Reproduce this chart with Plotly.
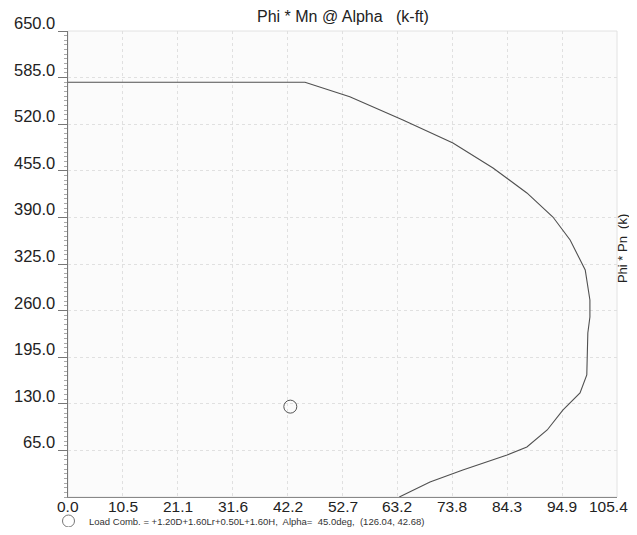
import plotly.graph_objects as go

# Interaction diagram (Phi*Mn vs Phi*Pn)
mn_values = [0.0, 45.5, 54.1, 64.3, 73.9, 81.6, 88.1, 93.1, 96.4, 98.3, 99.3, 100.2,
             100.2, 99.8, 99.6, 99.6, 98.3, 95.0, 92.0, 88.1, 84.3, 75.8, 69.5, 63.6]
pn_values = [578.5, 578.5, 558.3, 525.8, 493.8, 458.9, 424.1, 390.5, 358.5, 330.6, 316.6, 274.8,
             251.1, 228.7, 191.1, 170.2, 145.1, 121.3, 93.5, 69.7, 58.6, 37.7, 20.9, 0.0]

load_mn = [42.68]
load_pn = [126.04]
load_name = "Load Comb. = +1.20D+1.60Lr+0.50L+1.60H,\u00a0 Alpha=\u00a0 45.0deg,\u00a0 (126.04, 42.68)"

x_tickvals = [0, 10.54, 21.08, 31.62, 42.16, 52.7, 63.24, 73.78, 84.32, 94.86, 105.4]
x_ticktext = ["0.0", "10.5", "21.1", "31.6", "42.2", "52.7", "63.2", "73.8", "84.3", "94.9", "105.4"]
y_tickvals = [65, 130, 195, 260, 325, 390, 455, 520, 585, 650]
y_ticktext = ["65.0", "130.0", "195.0", "260.0", "325.0", "390.0", "455.0", "520.0", "585.0", "650.0"]

title_text = "Phi * Mn @ Alpha\u00a0\u00a0 (k-ft)"
ytitle_text = "Phi * Pn\u00a0 (k)"

FONT = "Liberation Sans, Arial, sans-serif"
# the page body has an 8px margin, so the figure is sized/offset to compensate
W, H = 622, 519
L, R, T, B = 60, 13, 23, 30

fig = go.Figure()
fig.add_trace(go.Scatter(x=mn_values, y=pn_values, mode="lines",
                         line=dict(color="#505050", width=1.1), showlegend=False,
                         hoverinfo="skip"))
fig.add_trace(go.Scatter(x=load_mn, y=load_pn, mode="markers", name=load_name,
                         marker=dict(symbol="circle-open", size=13, color="#555555",
                                     line=dict(width=1)),
                         showlegend=False))

fig.update_layout(
    width=W, height=H,
    margin=dict(l=L, r=R, t=T, b=B, autoexpand=False),
    paper_bgcolor="white", plot_bgcolor="#fbfbfb",
    font=dict(family=FONT, color="#222222"),
    showlegend=False,
    xaxis=dict(range=[0, 105.4], tickvals=x_tickvals, ticktext=[""] * len(x_tickvals),
               showgrid=True, gridcolor="#e0e0e0", griddash="dot", gridwidth=1,
               showline=True, linecolor="#888888", linewidth=1, mirror=False,
               ticks="", zeroline=False, fixedrange=True, automargin=False),
    yaxis=dict(range=[0, 650], tickvals=y_tickvals, ticktext=[""] * len(y_tickvals),
               showgrid=True, gridcolor="#e0e0e0", griddash="dot", gridwidth=1,
               showline=True, linecolor="#777777", linewidth=1,
               ticks="outside", ticklen=9, tickcolor="#777777", tickwidth=1,
               minor=dict(dtick=6.5, ticks="outside", ticklen=3, tickcolor="#aaaaaa",
                          showgrid=False),
               zeroline=False, fixedrange=True, automargin=False),
)

# border on top/right
fig.add_shape(type="rect", xref="paper", yref="paper", x0=0, y0=0, x1=1, y1=1,
              line=dict(color="#e2e2e2", width=1), layer="below")

# legend key (open circle below the plot)
fig.add_shape(type="circle", xref="paper", yref="paper", xsizemode="pixel", ysizemode="pixel",
              xanchor=0.0, yanchor=0.0, x0=-5.5, x1=6.5, y0=-30, y1=-18,
              line=dict(color="#777777", width=1))

annotations = []
for v, t in zip(y_tickvals, y_ticktext):
    annotations.append(dict(x=0, xref="paper", y=v, yref="y", text=t, showarrow=False,
                            xanchor="right", yanchor="middle", xshift=-11, yshift=8,
                            font=dict(size=16.5, family=FONT, color="#222222")))
last = len(x_tickvals) - 1
for i, (v, t) in enumerate(zip(x_tickvals, x_ticktext)):
    annotations.append(dict(x=v, xref="x", y=0, yref="paper", text=t, showarrow=False,
                            xanchor="right" if i == last else "center", yanchor="middle",
                            xshift=13 if i == last else 0, yshift=-9,
                            font=dict(size=15.5, family=FONT, color="#222222")))
annotations.append(dict(x=0.5, xref="paper", y=1, yref="paper", text=title_text,
                        showarrow=False, xanchor="center", yanchor="middle", yshift=15,
                        borderpad=0,
                        font=dict(size=16, family=FONT, color="#222222")))
annotations.append(dict(x=1, xref="paper", y=0.532, yref="paper", text=ytitle_text,
                        showarrow=False, xanchor="center", yanchor="middle", xshift=5,
                        borderpad=0,
                        textangle=-90, font=dict(size=13, family=FONT, color="#222222")))
annotations.append(dict(x=0, xref="paper", y=0, yref="paper", text=load_name,
                        showarrow=False, xanchor="left", yanchor="middle", xshift=19, yshift=-24,
                        font=dict(size=9.5, family=FONT, color="#333333")))
fig.update_layout(annotations=annotations)

fig.write_html("out.html")
